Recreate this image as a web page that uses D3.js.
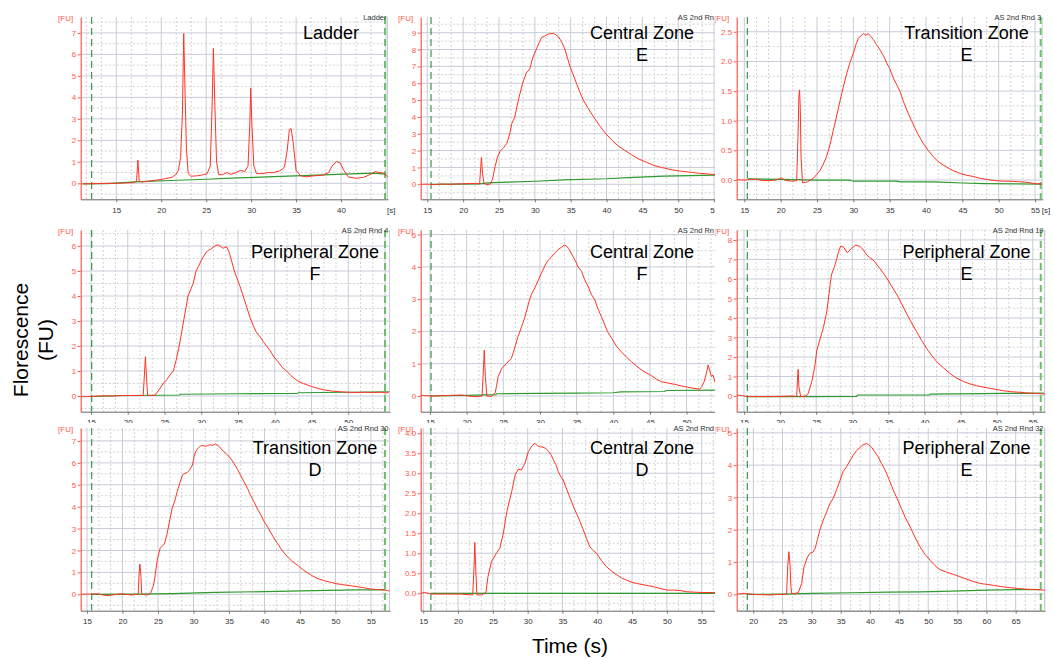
<!DOCTYPE html>
<html>
<head>
<meta charset="utf-8">
<script src="https://cdn.jsdelivr.net/npm/d3@7"></script>
<style>
  html, body { margin: 0; padding: 0; background: #fff; }
  svg { display: block; font-family: "Liberation Sans", Arial, sans-serif; }
</style>
</head>
<body>
<svg id="chart"></svg>
<script>
// ---- values: [time (s), fluorescence (FU)] ----
const ladderTrace = [[11.05,-0.03],[12,-0.02],[13,-0.01],[14,0],[15,0],[16,0.02],[16.9,0.03],[17.25,0.1],[17.4,1.08],[17.55,0.1],[17.8,0.06],[18.5,0.1],[19.5,0.15],[20.5,0.22],[21.2,0.28],[21.6,0.4],[21.9,0.6],[22.15,1.2],[22.35,3.2],[22.5,6.97],[22.65,4.2],[22.8,1.6],[23.0,0.45],[23.3,0.33],[24,0.35],[24.7,0.4],[25.1,0.45],[25.45,0.8],[25.65,3.5],[25.8,6.28],[25.95,3.8],[26.15,1.0],[26.4,0.4],[26.8,0.4],[27.3,0.5],[27.7,0.42],[28.2,0.48],[28.8,0.6],[29.3,0.55],[29.65,0.8],[29.85,2.8],[29.95,4.42],[30.1,2.6],[30.3,0.8],[30.6,0.45],[31.3,0.45],[31.8,0.5],[32.5,0.5],[33.2,0.58],[33.7,0.75],[34.0,1.5],[34.25,2.5],[34.45,2.55],[34.7,1.8],[35.0,0.6],[35.5,0.35],[36.1,0.3],[37,0.35],[38,0.38],[38.6,0.5],[39.0,0.8],[39.5,1.02],[39.9,0.95],[40.3,0.6],[40.8,0.3],[41.7,0.23],[42.5,0.28],[43.2,0.4],[43.8,0.55],[44.2,0.5],[44.7,0.48],[45.2,0.3]];
const ladderBaseline = [[11.3,-0.03],[14,-0.01],[17.6,0.08],[21,0.13],[25.05,0.19],[28.5,0.25],[32.5,0.31],[38.0,0.39],[43.6,0.47],[45,0.43]];

const centralETrace = [[14.1,0],[15,0.01],[16,-0.02],[17,0.02],[18,0],[19,0.02],[20,0.03],[21,0.05],[21.9,0.05],[22.3,0.02],[22.45,1.0],[22.55,1.6],[22.7,0.65],[22.9,0.06],[23.3,-0.02],[23.8,0.02],[24.1,0.3],[24.45,1.05],[24.8,1.64],[25.2,2.0],[25.6,2.15],[26.1,2.43],[26.5,3.0],[26.8,3.62],[27.2,4.0],[27.7,5.0],[28.3,6.0],[28.8,6.6],[29.3,6.85],[29.7,7.5],[30.2,8.0],[30.6,8.4],[30.95,8.72],[31.4,8.8],[31.9,8.92],[32.6,8.96],[33.3,8.76],[33.8,8.4],[34.2,8.0],[34.55,7.5],[34.9,7.0],[35.35,6.5],[35.8,6.0],[36.25,5.5],[36.75,5.0],[37.45,4.5],[38.2,4.0],[39.0,3.5],[39.9,3.0],[40.8,2.6],[41.7,2.25],[42.6,2.0],[43.5,1.75],[44.5,1.5],[45.6,1.3],[46.6,1.12],[47.7,1.0],[49,0.87],[50,0.8],[51,0.75],[52,0.7],[53,0.65],[54,0.62],[55,0.58],[56.9,0.54]];
const centralEBaseline = [[15.5,0.0],[22,0.02],[24.0,0.1],[30,0.18],[34,0.26],[40,0.33],[43,0.4],[48,0.48],[56.9,0.56]];

const transitionETrace = [[13.95,0.01],[14.5,0.0],[15.1,0.0],[15.8,0.01],[16.7,0.01],[17.5,-0.01],[18.5,-0.01],[19.3,0.0],[19.8,0.02],[20.1,0.04],[20.5,0.0],[21.5,-0.02],[22.2,-0.01],[22.4,0.8],[22.5,1.4],[22.6,1.52],[22.7,1.2],[22.8,0.4],[23.0,-0.045],[23.4,-0.04],[23.7,-0.03],[24.1,0.0],[24.5,0.03],[25.0,0.1],[25.4,0.16],[25.8,0.25],[26.3,0.39],[26.8,0.6],[27.2,0.82],[27.7,1.08],[28.2,1.35],[28.6,1.56],[29.1,1.8],[29.5,1.97],[30.0,2.14],[30.4,2.3],[30.7,2.39],[31.0,2.43],[31.4,2.47],[31.7,2.44],[32.05,2.47],[32.4,2.42],[32.75,2.37],[33.2,2.28],[33.7,2.19],[34.2,2.08],[34.6,1.97],[35.0,1.88],[35.5,1.72],[36.4,1.5],[36.9,1.32],[37.5,1.14],[38.0,1.0],[38.9,0.77],[39.6,0.62],[40.3,0.5],[41.0,0.39],[41.8,0.3],[42.8,0.22],[43.7,0.16],[44.7,0.11],[45.6,0.08],[46.5,0.06],[47.4,0.03],[48.3,0.01],[49.5,-0.01],[50.6,-0.02],[51.7,-0.02],[52.9,-0.03],[54,-0.04],[55,-0.06],[56,-0.07]];
const transitionEBaseline = [[15.4,0.02],[20,0.01],[25,0.0],[29.5,0.0],[30,-0.02],[36,-0.02],[36.5,-0.03],[41,-0.03],[45,-0.05],[48,-0.06],[55.8,-0.07]];

const peripheralFTrace = [[13.6,-0.03],[15,-0.02],[16,0.0],[17,0.01],[18,0.0],[19,0.02],[20,0.02],[21,0.02],[22.1,0.02],[22.3,1.0],[22.4,1.57],[22.55,0.77],[22.7,0.03],[23.2,0.02],[23.6,0.03],[23.9,0.1],[24.4,0.31],[24.9,0.53],[25.3,0.65],[25.75,0.84],[26.2,1.0],[26.6,1.45],[27.0,2.0],[27.6,3.0],[28.2,4.0],[28.9,4.5],[29.3,5.0],[29.6,5.17],[30.0,5.42],[30.3,5.57],[30.6,5.72],[31.0,5.84],[31.3,5.87],[31.6,5.95],[32.0,6.03],[32.3,6.04],[32.7,5.97],[33.0,5.91],[33.45,5.97],[33.8,5.75],[34.1,5.44],[34.5,5.0],[35.0,4.6],[35.3,4.37],[35.7,4.0],[36.2,3.55],[36.6,3.17],[37.1,2.8],[37.5,2.55],[38.0,2.37],[38.5,2.15],[38.9,2.0],[39.4,1.8],[39.8,1.6],[40.5,1.35],[41.0,1.15],[41.6,1.0],[42.2,0.82],[42.8,0.67],[43.3,0.57],[43.9,0.5],[45,0.38],[46,0.3],[46.6,0.25],[47.7,0.2],[48.9,0.17],[50,0.15],[51.1,0.14],[52.2,0.15],[53.4,0.14],[54.5,0.15],[55.2,0.12],[55.6,0.17]];
const peripheralFBaseline = [[15.1,-0.02],[20,0.02],[24,0.03],[27.0,0.04],[27.2,0.07],[35,0.09],[43,0.1],[43.2,0.13],[50,0.15],[55.5,0.17]];

const centralFTrace = [[13.7,0.02],[15.2,0.0],[16.5,0.01],[18,0.02],[19.3,0.03],[20.2,0.0],[21.0,-0.02],[21.6,-0.02],[22.1,0.0],[22.3,0.9],[22.4,1.42],[22.55,0.6],[22.75,0.0],[23.4,-0.02],[23.9,0.1],[24.1,0.35],[24.3,0.6],[24.8,0.86],[25.45,1.01],[26.1,1.16],[26.5,1.45],[27.0,1.84],[27.5,2.15],[27.95,2.45],[28.6,3.0],[28.9,3.18],[29.3,3.35],[29.8,3.6],[30.2,3.8],[30.7,4.05],[31.1,4.2],[31.6,4.31],[32.0,4.42],[32.5,4.54],[32.9,4.6],[33.3,4.67],[33.6,4.65],[33.9,4.57],[34.3,4.4],[34.8,4.2],[35.2,4.0],[35.7,3.85],[36.1,3.6],[36.6,3.38],[37.0,3.15],[37.5,2.97],[37.9,2.7],[38.4,2.45],[39.2,2.0],[39.8,1.78],[40.4,1.55],[41.1,1.37],[41.8,1.2],[42.5,1.06],[43.2,0.92],[43.9,0.8],[44.5,0.72],[45.2,0.63],[45.9,0.52],[46.6,0.44],[47.5,0.4],[48.4,0.36],[49.3,0.31],[50.2,0.27],[51.0,0.24],[51.8,0.21],[52.1,0.3],[52.4,0.45],[52.7,0.7],[52.95,0.96],[53.2,0.75],[53.4,0.6],[53.6,0.65],[53.8,0.5],[54.0,0.34]];
const centralFBaseline = [[15.1,0.0],[20,0.02],[24,0.04],[24.1,0.07],[30,0.08],[35,0.09],[40,0.1],[41,0.13],[47,0.14],[47.2,0.17],[54,0.18]];

const peripheralETrace = [[14.0,0.05],[14.8,0.02],[15.4,-0.03],[17,-0.03],[18.6,-0.03],[20,-0.02],[21.8,0.0],[22.3,-0.03],[22.4,0.8],[22.5,1.37],[22.6,0.48],[22.85,-0.03],[23.6,0.0],[23.9,0.14],[24.4,0.74],[24.8,1.5],[25.1,2.36],[25.5,2.87],[26.0,3.5],[26.5,4.41],[26.8,5.3],[27.1,6.2],[27.5,6.6],[27.8,6.97],[28.1,7.4],[28.4,7.69],[28.8,7.62],[29.3,7.35],[29.6,7.45],[29.9,7.57],[30.5,7.74],[31.1,7.66],[31.5,7.5],[32.0,7.23],[32.4,7.1],[32.9,6.97],[33.3,6.78],[33.8,6.55],[34.3,6.3],[34.8,6.03],[35.5,5.6],[36.2,5.18],[36.8,4.75],[37.5,4.24],[38.2,3.75],[38.9,3.3],[39.6,2.85],[40.3,2.44],[41.0,2.08],[41.7,1.76],[42.6,1.45],[43.5,1.16],[44.4,0.93],[45.4,0.74],[46.3,0.62],[47.2,0.53],[48.1,0.46],[49.1,0.39],[50.0,0.33],[50.9,0.27],[52.0,0.22],[53.2,0.19],[54.1,0.16],[55.1,0.14],[56.0,0.12],[56.7,0.1]];
const peripheralEBaseline = [[15.4,-0.03],[25,-0.03],[30.6,-0.02],[30.7,0.05],[40.7,0.05],[40.8,0.1],[51,0.13],[56.5,0.15]];

const transitionDTrace = [[14.25,0.0],[15.5,0.01],[16.5,0.02],[17.2,-0.03],[17.9,-0.06],[18.8,-0.02],[19.8,0.02],[20.5,0.0],[21.2,-0.03],[22.2,0.0],[22.35,1.0],[22.45,1.38],[22.6,0.8],[22.7,0.0],[23.1,-0.02],[23.5,-0.03],[24.0,0.08],[24.3,0.35],[24.5,0.65],[24.9,1.57],[25.3,2.1],[25.9,2.3],[26.3,2.79],[26.6,3.3],[27.0,3.93],[27.4,4.3],[27.7,4.69],[28.1,5.1],[28.45,5.45],[28.8,5.52],[29.15,5.56],[29.5,5.7],[29.85,5.9],[30.1,6.3],[30.3,6.51],[30.6,6.65],[31.0,6.77],[31.3,6.8],[31.7,6.74],[32.0,6.8],[32.4,6.82],[32.7,6.8],[33.1,6.86],[33.5,6.78],[33.8,6.67],[34.3,6.5],[34.8,6.36],[35.3,6.17],[35.7,5.98],[36.2,5.7],[36.6,5.45],[37.1,5.15],[37.6,4.84],[38.0,4.55],[38.5,4.23],[39.0,3.9],[39.5,3.62],[39.9,3.35],[40.4,3.09],[41.1,2.7],[41.8,2.33],[42.5,2.0],[43.2,1.72],[43.9,1.5],[44.6,1.34],[45.3,1.15],[46.0,0.99],[46.7,0.85],[47.4,0.73],[48.3,0.63],[49.3,0.55],[50.2,0.48],[51.2,0.43],[52.1,0.39],[53.0,0.35],[54.0,0.3],[54.9,0.24],[55.9,0.22],[56.8,0.2],[57.6,0.15]];
const transitionDBaseline = [[15.7,0.0],[22,0.01],[27,0.03],[33,0.09],[40,0.12],[47,0.17],[53,0.2],[57,0.2]];

const centralDTrace = [[14.7,0.0],[15.2,0.02],[16.2,-0.02],[18,-0.02],[20.3,-0.02],[22.1,-0.04],[22.3,0.67],[22.4,1.27],[22.55,0.58],[22.7,-0.04],[23.4,-0.04],[24.0,0.02],[24.3,0.42],[24.8,0.79],[25.5,1.0],[26.0,1.13],[26.5,1.5],[27.0,2.04],[27.7,2.54],[28.2,2.96],[28.65,3.1],[29.1,3.08],[29.6,3.25],[30.1,3.54],[30.6,3.68],[31.05,3.75],[31.5,3.67],[31.9,3.66],[32.2,3.65],[32.6,3.62],[33.0,3.55],[33.4,3.45],[33.7,3.33],[34.1,3.2],[34.4,3.04],[34.8,2.9],[35.1,2.83],[35.6,2.6],[36.1,2.38],[36.5,2.2],[37.0,2.0],[37.5,1.8],[38.0,1.58],[38.5,1.35],[38.9,1.17],[39.4,1.07],[39.9,1.0],[40.6,0.82],[41.3,0.67],[42.0,0.56],[42.8,0.46],[43.5,0.38],[44.2,0.33],[45.1,0.27],[46.1,0.23],[47.0,0.2],[48.0,0.17],[49.0,0.12],[50.0,0.08],[50.9,0.08],[51.9,0.07],[52.8,0.04],[53.8,0.03],[55.0,0.02],[56.7,0.02],[58.7,0.02]];
const centralDBaseline = [[16.1,0.0],[58.7,0.0]];

const peripheralE2Trace = [[17.15,0.01],[18.6,0.03],[20.0,0.0],[21.5,-0.01],[22.9,-0.02],[24.3,0.0],[25.7,0.0],[25.9,0.86],[26.1,1.32],[26.3,0.9],[26.45,0.24],[26.6,0.02],[27.7,0.05],[28.3,0.34],[28.7,0.86],[29.3,1.16],[29.8,1.29],[30.2,1.3],[30.6,1.42],[31.0,1.7],[31.4,1.99],[32.0,2.3],[32.6,2.56],[33.1,2.8],[33.7,2.97],[34.3,3.25],[34.9,3.54],[35.4,3.8],[36.0,3.95],[36.6,4.15],[37.15,4.31],[37.7,4.45],[38.3,4.55],[38.8,4.63],[39.4,4.67],[39.8,4.63],[40.3,4.55],[40.8,4.42],[41.4,4.26],[42.0,4.05],[42.6,3.85],[43.3,3.55],[44.0,3.23],[44.7,2.95],[45.4,2.66],[46.1,2.37],[46.9,2.09],[47.7,1.78],[48.6,1.47],[49.4,1.25],[50.3,1.06],[51.1,0.9],[52.0,0.77],[53.1,0.69],[54.3,0.62],[55.4,0.55],[56.6,0.47],[57.7,0.4],[58.9,0.34],[60.0,0.31],[61.2,0.28],[62.6,0.24],[64.0,0.21],[65.5,0.18],[66.9,0.16],[68.5,0.15],[70.0,0.13]];
const peripheralE2Baseline = [[19.0,0.0],[25,0.01],[30,0.03],[37,0.05],[43,0.07],[48.6,0.08],[54,0.1],[60,0.13],[65,0.15],[69.3,0.15]];

// ---- panel categories, axis ranges and marker times ----
const panelTitles = [["Ladder"], ["Central Zone", "E"], ["Transition Zone", "E"],
                     ["Peripheral Zone", "F"], ["Central Zone", "F"], ["Peripheral Zone", "E"],
                     ["Transition Zone", "D"], ["Central Zone", "D"], ["Peripheral Zone", "E"]];
// sample names as they show in the picture (middle column ones are cut by the next panel)
const sampleNames = ["Ladder", "AS 2nd Rn", "AS 2nd Rnd 3", "AS 2nd Rnd 4", "AS 2nd Rn",
                     "AS 2nd Rnd 19", "AS 2nd Rnd 30", "AS 2nd Rnd", "AS 2nd Rnd 32"];
const traces = [ladderTrace, centralETrace, transitionETrace, peripheralFTrace, centralFTrace,
                peripheralETrace, transitionDTrace, centralDTrace, peripheralE2Trace];
const baselines = [ladderBaseline, centralEBaseline, transitionEBaseline, peripheralFBaseline, centralFBaseline,
                   peripheralEBaseline, transitionDBaseline, centralDBaseline, peripheralE2Baseline];
const timeRanges = [[11.04, 45.22], [14.08, 56.94], [13.95, 56.05], [13.60, 55.68], [13.73, 55.65],
                    [13.99, 56.69], [14.11, 57.68], [14.63, 58.78], [17.15, 70.03]];
const fuRanges = [[-0.744, 7.74], [-0.89, 9.93], [-0.325, 2.749], [-0.628, 6.64], [-0.486, 5.14],
                  [-0.805, 8.51], [-0.749, 7.59], [-0.435, 4.13], [-0.505, 5.15]];
const fuTickSteps = [1, 1, 0.5, 1, 1, 1, 1, 0.5, 1];
const lowerMarkers = [12.26, 15.52, 15.41, 15.1, 15.14, 15.46, 15.66, 16.1, 18.97];
const upperMarkers = [44.89, null, 55.77, 55.0, null, 56.1, 56.97, null, 69.3];

// ---- layout ----
const width = 1053, height = 659;
const colStart = [0, 397, 715], colEnd = [397, 715, 1053];
const rowStart = [0, 217, 423], rowEnd = [217, 423, 632];
const axisX = [80.7, 420.7, 736.7];
const plotTop = [17, 230, 428], plotBottom = [199.3, 411.7, 610.7];
const plotRight = [388, 728, 1042.7, 390, 728, 1045, 390, 728, 1045];
const titleX = [331, 642, 966.5, 315, 642, 966.5, 315, 642, 966.5];
const titleY = [39, 257.5, 454.3];

const RED = '#ff3324', RED_AXIS = '#ff5a4c', GREEN = '#2f9a2f', GRID = '#c7ccd8', MINOR = '#d3d3d3';

let svg = d3.select('#chart')
  .attr('width', width)
  .attr('height', height);
let defs = svg.append('defs');

function drawPanel(i) {
  let col = i % 3, row = Math.floor(i / 3);
  let left = axisX[col], right = plotRight[i];
  let top = plotTop[row], bottom = plotBottom[row];

  defs.append('clipPath').attr('id', 'panel-' + i)
    .append('rect')
    .attr('x', colStart[col]).attr('y', rowStart[row])
    .attr('width', colEnd[col] - colStart[col]).attr('height', rowEnd[row] - rowStart[row]);
  defs.append('clipPath').attr('id', 'plot-' + i)
    .append('rect')
    .attr('x', left).attr('y', top).attr('width', right - left).attr('height', bottom - top);

  let g = svg.append('g').attr('clip-path', 'url(#panel-' + i + ')');
  g.append('rect')
    .attr('x', colStart[col]).attr('y', rowStart[row])
    .attr('width', colEnd[col] - colStart[col]).attr('height', rowEnd[row] - rowStart[row])
    .attr('fill', '#fff');

  let x = d3.scaleLinear().domain(timeRanges[i]).range([left, right]);
  let y = d3.scaleLinear().domain(fuRanges[i]).range([bottom, top]);
  let [t0, t1] = timeRanges[i];
  let [f0, f1] = fuRanges[i];
  let step = fuTickSteps[i];

  // grid: minor (dotted) every 5/3 s and half FU step, major every 5 s and FU step
  let minorX = d3.range(Math.ceil(t0 * 3 / 5), Math.floor(t1 * 3 / 5) + 1)
    .filter(k => k % 3 !== 0).map(k => k * 5 / 3);
  let minorY = d3.range(Math.ceil(f0 * 2 / step), Math.floor(f1 * 2 / step) + 1)
    .filter(k => k % 2 !== 0).map(k => k * step / 2);
  let majorX = d3.range(Math.ceil(t0 / 5), Math.floor(t1 / 5) + 1).map(k => k * 5);
  let majorY = d3.range(Math.ceil(f0 / step), Math.floor(f1 / step) + 1).map(k => +(k * step).toFixed(2));

  let grid = g.append('g');
  grid.selectAll('.mx').data(minorX).enter().append('line')
    .attr('x1', d => x(d)).attr('x2', d => x(d)).attr('y1', top).attr('y2', bottom)
    .attr('stroke', MINOR).attr('stroke-dasharray', '2,2');
  grid.selectAll('.my').data(minorY).enter().append('line')
    .attr('x1', left).attr('x2', right).attr('y1', d => y(d)).attr('y2', d => y(d))
    .attr('stroke', MINOR).attr('stroke-dasharray', '2,2');
  grid.selectAll('.gx').data(majorX).enter().append('line')
    .attr('x1', d => x(d)).attr('x2', d => x(d)).attr('y1', top).attr('y2', bottom)
    .attr('stroke', GRID);
  grid.selectAll('.gy').data(majorY).enter().append('line')
    .attr('x1', left).attr('x2', right).attr('y1', d => y(d)).attr('y2', d => y(d))
    .attr('stroke', GRID);
  grid.append('line')
    .attr('x1', right - 0.5).attr('x2', right - 0.5).attr('y1', top).attr('y2', bottom)
    .attr('stroke', GRID);

  // time markers
  let plot = g.append('g').attr('clip-path', 'url(#plot-' + i + ')');
  plot.append('line')
    .attr('x1', x(lowerMarkers[i])).attr('x2', x(lowerMarkers[i]))
    .attr('y1', top).attr('y2', bottom)
    .attr('stroke', '#2e8b3a').attr('stroke-width', 1.1).attr('stroke-dasharray', '7,4');
  if (upperMarkers[i] != null) {
    plot.append('line')
      .attr('x1', x(upperMarkers[i])).attr('x2', x(upperMarkers[i]))
      .attr('y1', top).attr('y2', bottom)
      .attr('stroke', '#6cc06c').attr('stroke-width', 2).attr('stroke-dasharray', '7,4');
  }

  // baseline and trace
  let line = d3.line().x(d => x(d[0])).y(d => y(d[1]));
  plot.append('path').datum(baselines[i])
    .attr('d', line).attr('fill', 'none').attr('stroke', GREEN).attr('stroke-width', 1.2);
  plot.append('path').datum(traces[i])
    .attr('d', line).attr('fill', 'none').attr('stroke', RED).attr('stroke-width', 1)
    .attr('stroke-linejoin', 'round');

  // axes
  let yAxis = d3.axisLeft(y).tickValues(majorY).tickSize(3).tickSizeOuter(0).tickPadding(1.5)
    .tickFormat(d => step < 1 ? d3.format('.1f')(d) : d3.format('d')(d));
  let ya = g.append('g').attr('transform', 'translate(' + left + ',0)').call(yAxis);
  ya.select('.domain').attr('stroke', RED_AXIS).attr('stroke-width', 1.2);
  ya.selectAll('.tick line').attr('stroke', RED_AXIS);
  ya.selectAll('.tick text').attr('fill', RED_AXIS)
    .style('font-family', '"Liberation Sans", Arial, sans-serif').style('font-size', '8px');

  let xTicks = majorX.filter(d => x(d) < right - 5);
  let xAxis = d3.axisBottom(x).tickValues(xTicks).tickSize(3).tickSizeOuter(0).tickPadding(5);
  let xa = g.append('g').attr('transform', 'translate(0,' + bottom + ')').call(xAxis);
  xa.select('.domain').attr('stroke', '#666');
  xa.selectAll('.tick line').attr('stroke', '#777');
  xa.selectAll('.tick text').attr('fill', '#333')
    .style('font-family', '"Liberation Sans", Arial, sans-serif').style('font-size', '8px');

  // small labels
  g.append('text').attr('x', left - 7.5).attr('y', top + 3.5)
    .attr('text-anchor', 'end').attr('fill', RED_AXIS).style('font-size', '8px').text('[FU]');
  if (right + 8 < colEnd[col]) {
    g.append('text').attr('x', right - 1).attr('y', bottom + 14)
      .attr('fill', '#333').style('font-size', '8px').text('[s]');
  }
  let nameRight = Math.min(right - 1.5, colEnd[col] - 1);
  g.append('text').attr('x', nameRight).attr('y', top + 2.8)
    .attr('text-anchor', 'end').attr('fill', '#333').style('font-size', '7.5px').text(sampleNames[i]);

  // zone title
  let title = g.append('text').attr('text-anchor', 'middle').attr('fill', '#000').style('font-size', '18px');
  panelTitles[i].forEach((t, k) => {
    title.append('tspan').attr('x', titleX[i]).attr('y', titleY[row] + k * 22).text(t);
  });
}

d3.range(9).forEach(drawPanel);

// shared axis titles
svg.append('text')
  .attr('transform', 'translate(28,340) rotate(-90)')
  .attr('text-anchor', 'middle').style('font-size', '21px').attr('fill', '#000')
  .text('Florescence');
svg.append('text')
  .attr('transform', 'translate(53,340) rotate(-90)')
  .attr('text-anchor', 'middle').style('font-size', '21px').attr('fill', '#000')
  .text('(FU)');
svg.append('text')
  .attr('x', 570).attr('y', 653)
  .attr('text-anchor', 'middle').style('font-size', '21px').attr('fill', '#000')
  .text('Time (s)');
</script>
</body>
</html>
